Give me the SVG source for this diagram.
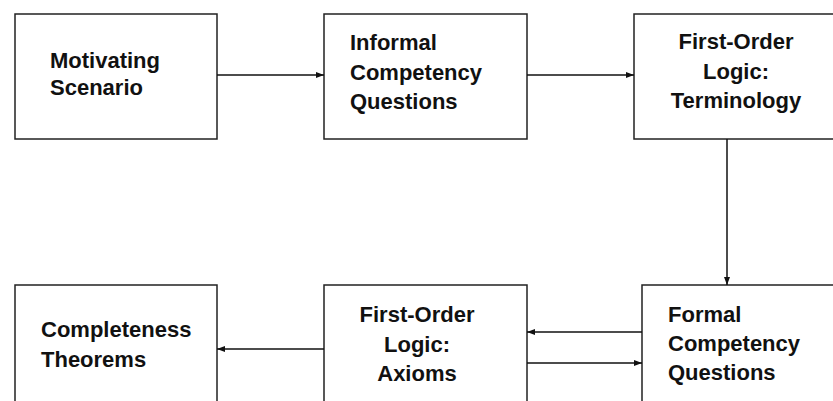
<svg xmlns="http://www.w3.org/2000/svg" width="833" height="401" viewBox="0 0 833 401">
<style>
.box{fill:#fff;stroke:#222;stroke-width:1.5}
.t{font-family:"Liberation Sans",Arial,sans-serif;font-weight:bold;font-size:22px;fill:#111}
.c{text-anchor:middle}
.ln{stroke:#111;stroke-width:1.5;fill:none;marker-end:url(#ah)}
</style>
<defs>
<marker id="ah" markerUnits="userSpaceOnUse" markerWidth="8" markerHeight="8" viewBox="0 0 8 8" refX="8" refY="4" orient="auto">
<path d="M0,1 L8,4 L0,7 Z" fill="#111"/>
</marker>
</defs>
<rect width="833" height="401" fill="#fff"/>
<g id="motivating">
<rect class="box" x="15" y="14" width="202" height="125"/>
<text class="t" x="50" y="68">Motivating</text>
<text class="t" x="50" y="95">Scenario</text>
</g>
<g id="informal">
<rect class="box" x="324" y="14" width="203" height="125"/>
<text class="t" x="350" y="50">Informal</text>
<text class="t" x="350" y="80">Competency</text>
<text class="t" x="350" y="109">Questions</text>
</g>
<g id="terminology">
<rect class="box" x="634" y="14" width="205" height="125"/>
<text class="t c" x="736" y="49">First-Order</text>
<text class="t c" x="736" y="79">Logic:</text>
<text class="t c" x="736" y="108">Terminology</text>
</g>
<g id="completeness">
<rect class="box" x="15" y="285" width="202" height="125"/>
<text class="t" x="41" y="337">Completeness</text>
<text class="t" x="41" y="367">Theorems</text>
</g>
<g id="axioms">
<rect class="box" x="324" y="285" width="203" height="125"/>
<text class="t c" x="417" y="322">First-Order</text>
<text class="t c" x="417" y="352">Logic:</text>
<text class="t c" x="417" y="381">Axioms</text>
</g>
<g id="formal">
<rect class="box" x="642" y="285" width="197" height="125"/>
<text class="t" x="668" y="322">Formal</text>
<text class="t" x="668" y="351">Competency</text>
<text class="t" x="668" y="380">Questions</text>
</g>
<g id="connectors">
<line class="ln" x1="217" y1="75" x2="324" y2="75"/>
<line class="ln" x1="527" y1="75" x2="634" y2="75"/>
<line class="ln" x1="727" y1="139" x2="727" y2="285"/>
<line class="ln" x1="642" y1="332" x2="527" y2="332"/>
<line class="ln" x1="527" y1="363" x2="642" y2="363"/>
<line class="ln" x1="324" y1="349" x2="217" y2="349"/>
</g>
</svg>
